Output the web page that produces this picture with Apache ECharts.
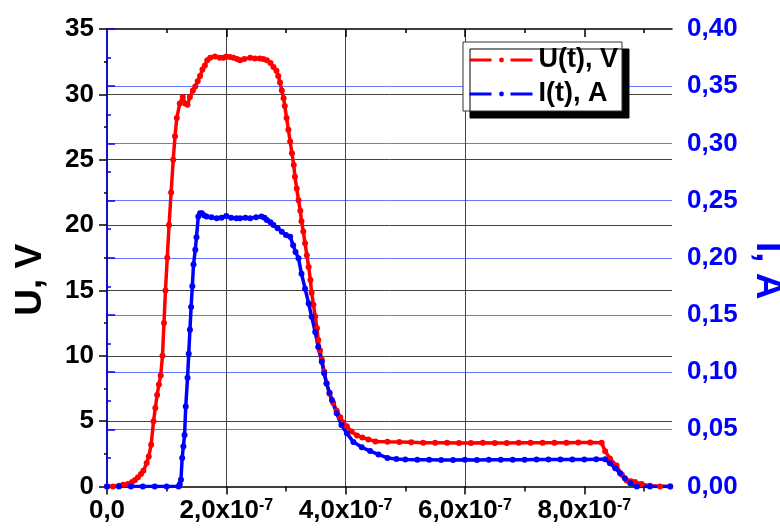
<!DOCTYPE html>
<html><head><meta charset="utf-8">
<script src="https://cdn.jsdelivr.net/npm/echarts@6/dist/echarts.min.js"></script>
<style>html,body{margin:0;padding:0;background:#fff}#c{width:780px;height:531px}</style>
</head><body><div id="c"></div>
<script>
// U(t), V  (time in seconds)
const uTime = [0, 0.10e-7, 0.20e-7, 0.27e-7, 0.35e-7, 0.42e-7, 0.47e-7, 0.52e-7, 0.57e-7, 0.61e-7,
  0.665e-7, 0.70e-7, 0.74e-7, 0.78e-7, 0.81e-7, 0.84e-7, 0.87e-7, 0.90e-7, 0.93e-7, 0.955e-7,
  0.98e-7, 1.01e-7, 1.04e-7, 1.075e-7, 1.11e-7, 1.14e-7, 1.17e-7, 1.22e-7, 1.27e-7, 1.31e-7,
  1.35e-7, 1.39e-7, 1.44e-7, 1.48e-7, 1.52e-7, 1.56e-7, 1.60e-7, 1.64e-7, 1.68e-7, 1.73e-7,
  1.81e-7, 1.89e-7, 1.95e-7, 2.00e-7, 2.06e-7, 2.12e-7, 2.18e-7, 2.23e-7, 2.30e-7, 2.40e-7,
  2.48e-7, 2.56e-7, 2.62e-7, 2.68e-7, 2.74e-7, 2.79e-7, 2.84e-7, 2.87e-7, 2.90e-7, 2.93e-7,
  2.96e-7, 2.98e-7, 3.01e-7, 3.04e-7, 3.07e-7, 3.10e-7, 3.13e-7, 3.15e-7, 3.18e-7, 3.21e-7,
  3.24e-7, 3.26e-7, 3.29e-7, 3.32e-7, 3.35e-7, 3.38e-7, 3.41e-7, 3.43e-7, 3.46e-7, 3.49e-7,
  3.52e-7, 3.54e-7, 3.57e-7, 3.60e-7, 3.64e-7, 3.68e-7, 3.73e-7, 3.79e-7, 3.85e-7, 3.91e-7,
  3.96e-7, 4.02e-7, 4.10e-7, 4.19e-7, 4.28e-7, 4.38e-7, 4.50e-7, 4.70e-7, 4.90e-7, 5.10e-7,
  5.30e-7, 5.50e-7, 5.70e-7, 5.90e-7, 6.10e-7, 6.30e-7, 6.50e-7, 6.70e-7, 6.90e-7, 7.10e-7,
  7.30e-7, 7.50e-7, 7.70e-7, 7.90e-7, 8.10e-7, 8.29e-7, 8.35e-7, 8.43e-7, 8.54e-7, 8.63e-7,
  8.71e-7, 8.78e-7, 8.85e-7, 8.96e-7, 9.10e-7, 9.27e-7, 9.44e-7];
const uValues = [0, 0, 0.05, 0.13, 0.2, 0.35, 0.5, 0.7, 0.95, 1.2,
  1.8, 2.3, 3.2, 5.0, 6.0, 7.0, 7.8, 8.5, 10.0, 12.5,
  15.0, 17.5, 20.0, 22.5, 25.0, 26.8, 28.2, 29.3, 29.8, 29.3,
  29.2, 29.8, 30.3, 30.6, 31.0, 31.4, 31.9, 32.2, 32.6, 32.8,
  32.9, 32.8, 32.8, 32.9, 32.85, 32.8, 32.7, 32.6, 32.7, 32.8,
  32.75, 32.75, 32.7, 32.6, 32.4, 32.1, 31.8, 31.4, 30.9, 30.3,
  29.7, 29.1, 28.2, 27.3, 26.4, 25.5, 24.6, 23.7, 22.8, 21.9,
  21.1, 20.3, 19.5, 18.6, 17.7, 16.8, 15.8, 14.8, 13.9, 13.0,
  12.1, 11.2, 10.4, 9.7, 8.8, 7.9, 7.1, 6.4, 5.8, 5.3,
  4.9, 4.6, 4.2, 3.9, 3.75, 3.6, 3.45, 3.42, 3.4, 3.38,
  3.35, 3.35, 3.34, 3.33, 3.33, 3.34, 3.33, 3.33, 3.34, 3.35,
  3.34, 3.35, 3.35, 3.36, 3.36, 3.35, 2.7, 2.15, 1.6, 0.9,
  0.45, 0.4, 0.35, 0.2, 0.05, 0, 0];

// I(t), A
const iTime = [0, 0.2e-7, 0.4e-7, 0.6e-7, 0.8e-7, 1.0e-7, 1.2e-7, 1.22e-7, 1.24e-7, 1.26e-7,
  1.28e-7, 1.30e-7, 1.32e-7, 1.35e-7, 1.37e-7, 1.39e-7, 1.41e-7, 1.43e-7, 1.45e-7, 1.48e-7,
  1.50e-7, 1.53e-7, 1.56e-7, 1.59e-7, 1.63e-7, 1.67e-7, 1.75e-7, 1.84e-7, 1.92e-7, 2.00e-7,
  2.08e-7, 2.17e-7, 2.23e-7, 2.32e-7, 2.40e-7, 2.50e-7, 2.59e-7, 2.64e-7, 2.68e-7, 2.74e-7,
  2.79e-7, 2.86e-7, 2.93e-7, 3.00e-7, 3.07e-7, 3.12e-7, 3.16e-7, 3.21e-7, 3.26e-7, 3.32e-7,
  3.38e-7, 3.43e-7, 3.49e-7, 3.54e-7, 3.60e-7, 3.64e-7, 3.68e-7, 3.73e-7, 3.77e-7, 3.85e-7,
  3.93e-7, 4.02e-7, 4.13e-7, 4.27e-7, 4.41e-7, 4.55e-7, 4.70e-7, 4.85e-7, 5.00e-7, 5.20e-7,
  5.40e-7, 5.60e-7, 5.80e-7, 6.00e-7, 6.20e-7, 6.40e-7, 6.60e-7, 6.80e-7, 7.00e-7, 7.20e-7,
  7.40e-7, 7.60e-7, 7.80e-7, 8.00e-7, 8.20e-7, 8.35e-7, 8.43e-7, 8.52e-7, 8.60e-7, 8.68e-7,
  8.77e-7, 8.88e-7, 9.10e-7, 9.44e-7];
const iValues = [0, 0, 0, 0, 0, 0, 0, 0.002, 0.006, 0.025,
  0.035, 0.045, 0.070, 0.095, 0.116, 0.137, 0.157, 0.175, 0.194, 0.207,
  0.218, 0.236, 0.239, 0.239, 0.237, 0.236, 0.2355, 0.2345, 0.235, 0.2365,
  0.235, 0.2345, 0.2345, 0.235, 0.2345, 0.2355, 0.236, 0.235, 0.233, 0.231,
  0.2286, 0.2258, 0.2228, 0.220, 0.2184, 0.211, 0.205, 0.1995, 0.186, 0.173,
  0.160, 0.1485, 0.135, 0.122, 0.109, 0.099, 0.090, 0.082, 0.0756, 0.064,
  0.0538, 0.0465, 0.039, 0.0343, 0.031, 0.028, 0.025, 0.024, 0.0236, 0.0234,
  0.0233, 0.0232, 0.0232, 0.0233, 0.0232, 0.0233, 0.0234, 0.0233, 0.0234, 0.0235,
  0.0235, 0.0236, 0.0236, 0.0237, 0.0238, 0.0238, 0.0203, 0.0159, 0.0115, 0.0072,
  0.0028, 0, 0, 0];

const xMajorTicks = [0, 2e-7, 4e-7, 6e-7, 8e-7];
const xMinorTicks = [1e-7, 3e-7, 5e-7, 7e-7, 9e-7];
const xMin = 0, xMax = 9.47e-7;
const seriesNames = ['U(t), V', 'I(t), A'];
const axisNames = ['U, V', 'I, A'];

const FONT = 'Liberation Sans, Arial, sans-serif';
const chart = echarts.init(document.getElementById('c'), null, {renderer: 'canvas'});

function xLabel(v) {
  if (Math.abs(v) < 1e-12) return '{m|0,0}';
  const m = (v / 1e-7).toFixed(1).replace('.', ',');
  return '{m|' + m + 'x10}{e|-7}';
}
const pairs = (xs, ys) => xs.map((x, i) => [x, ys[i]]);

const baseX = {type: 'value', min: xMin, max: xMax, gridIndex: 0, splitLine: {show: false}, axisLabel: {show: false}};

chart.setOption({
  animation: false,
  backgroundColor: '#fff',
  grid: {left: 107, right: 108, top: 29, bottom: 44.5, containLabel: false, outerBoundsMode: 'none'},
  legend: {
    orient: 'vertical', left: 463, top: 42,
    itemWidth: 64, itemHeight: 6, itemGap: 6,
    padding: [4, 4, 3, 5],
    backgroundColor: '#fff', borderColor: '#333', borderWidth: 1,
    shadowColor: '#000', shadowBlur: 0, shadowOffsetX: 7, shadowOffsetY: 7,
    selectedMode: false,
    lineStyle: {type: [22, 19], width: 3},
    textStyle: {fontFamily: FONT, fontWeight: 'bold', fontSize: 27, color: '#000', lineHeight: 28},
    data: seriesNames
  },
  xAxis: [
    Object.assign({}, baseX, {
      position: 'bottom', interval: 2e-7,
      axisLine: {show: true, lineStyle: {color: '#000', width: 1.5}},
      axisTick: {show: true, inside: false, length: 8, customValues: xMajorTicks, lineStyle: {color: '#000', width: 1.5}},
      axisLabel: {show: true, customValues: xMajorTicks, margin: 11, formatter: xLabel,
        rich: {
          m: {fontFamily: FONT, fontWeight: 'bold', fontSize: 26, color: '#000', lineHeight: 26},
          e: {fontFamily: FONT, fontWeight: 'bold', fontSize: 16, color: '#000', lineHeight: 16, verticalAlign: 'top'}
        }},
      splitLine: {show: true, showMinLine: false, showMaxLine: false, lineStyle: {color: '#444', width: 1}}
    }),
    Object.assign({}, baseX, {
      position: 'bottom', interval: 1e-7,
      axisLine: {show: false},
      axisTick: {show: true, inside: false, length: 5, customValues: xMinorTicks, lineStyle: {color: '#000', width: 1.5}}
    }),
    Object.assign({}, baseX, {
      position: 'top', interval: 2e-7,
      axisLine: {show: true, lineStyle: {color: '#000', width: 1.5}},
      axisTick: {show: true, inside: true, length: 8, customValues: [2e-7, 4e-7, 6e-7, 8e-7], lineStyle: {color: '#000', width: 1.5}}
    }),
    Object.assign({}, baseX, {
      position: 'top', interval: 1e-7,
      axisLine: {show: false},
      axisTick: {show: true, inside: true, length: 4, customValues: xMinorTicks, lineStyle: {color: '#000', width: 1.5}}
    })
  ],
  yAxis: [
    {
      type: 'value', position: 'left', min: 0, max: 35, interval: 5,
      name: axisNames[0], nameLocation: 'middle', nameGap: 58,
      nameTextStyle: {fontFamily: FONT, fontWeight: 'bold', fontSize: 37, color: '#000', padding: [0, 44, 0, 0]},
      axisLine: {show: true, lineStyle: {color: '#000', width: 1.5}},
      axisTick: {show: true, inside: false, length: 8, lineStyle: {color: '#000', width: 1.5}},
      minorTick: {show: true, splitNumber: 2, length: 3, lineStyle: {color: '#000', width: 1.5}},
      axisLabel: {margin: 13, fontFamily: FONT, fontWeight: 'bold', fontSize: 26, color: '#000'},
      splitLine: {show: true, showMinLine: false, showMaxLine: false, lineStyle: {color: '#444', width: 1}}
    },
    {
      type: 'value', position: 'right', min: 0, max: 0.4, interval: 0.05,
      name: axisNames[1], nameLocation: 'middle', nameGap: 71, nameRotate: -90,
      nameTextStyle: {fontFamily: FONT, fontWeight: 'bold', fontSize: 37, color: '#0000ff', padding: [0, 0, 0, 26]},
      axisLine: {show: true, lineStyle: {color: '#0000ff', width: 1.5}},
      axisTick: {show: true, inside: false, length: 8, lineStyle: {color: '#0000ff', width: 1.5}},
      minorTick: {show: true, splitNumber: 2, length: 4, lineStyle: {color: '#0000ff', width: 1.5}},
      axisLabel: {margin: 15, fontFamily: FONT, fontWeight: 'bold', fontSize: 26, color: '#0000ff',
        formatter: v => v.toFixed(2).replace('.', ',')},
      splitLine: {show: true, showMinLine: false, showMaxLine: false, lineStyle: {color: '#6677ff', width: 1}}
    }
  ],
  series: [
    {
      name: seriesNames[0], type: 'line', xAxisIndex: 0, yAxisIndex: 0,
      data: pairs(uTime, uValues),
      symbol: 'circle', symbolSize: 6, showAllSymbol: true,
      lineStyle: {color: '#ff0000', width: 3.5}, itemStyle: {color: '#ff0000'}
    },
    {
      name: seriesNames[1], type: 'line', xAxisIndex: 0, yAxisIndex: 1,
      data: pairs(iTime, iValues),
      symbol: 'circle', symbolSize: 6, showAllSymbol: true,
      lineStyle: {color: '#0000ff', width: 3.5}, itemStyle: {color: '#0000ff'}
    }
  ]
});
</script></body></html>
